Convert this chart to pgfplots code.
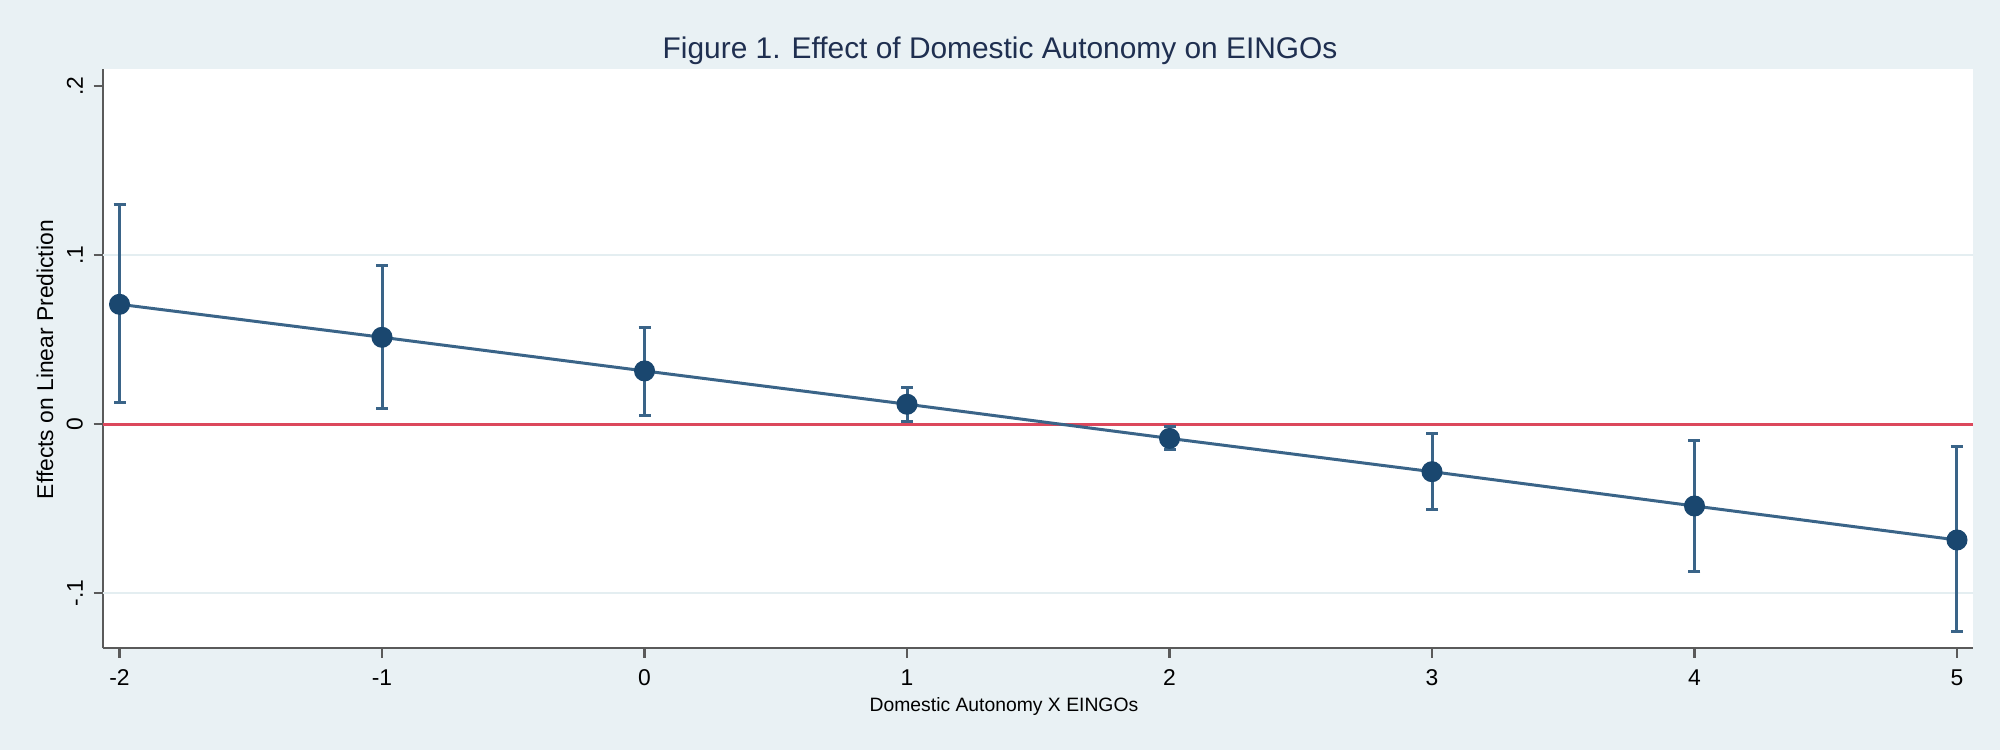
\documentclass[border=0pt]{standalone}
\usepackage{pgfplots}
\pgfplotsset{compat=1.18}
\usepackage{pgfplotstable}
\usepackage{fontspec}
\setmainfont{Liberation Sans}

\definecolor{bgblue}{HTML}{E9F1F4}
\definecolor{gridblue}{HTML}{E4EEF1}
\definecolor{stnavy}{HTML}{1A476F}
\definecolor{stline}{HTML}{3A6488}
\definecolor{stred}{HTML}{DC485C}
\definecolor{axgray}{HTML}{5A5A5A}
\definecolor{titlecol}{HTML}{1F2F50}

% margins: estimate and 95% CI
\pgfplotstableread{
x  est      lo       hi
-2  0.0708   0.0128   0.1296
-1  0.0513   0.0089   0.0935
0   0.0314   0.0053   0.0572
1   0.0117   0.0012   0.0215
2  -0.0085  -0.0150  -0.0016
3  -0.0282  -0.0505  -0.0059
4  -0.0485  -0.0870  -0.0095
5  -0.0686  -0.1229  -0.0134
}\margins

\begin{document}
\begin{tikzpicture}
\fill[bgblue] (-10.3mm,-10.2mm) rectangle (189.7mm,64.8mm);
\begin{axis}[
  at={(0,0)}, anchor=south west,
  scale only axis,
  width=187mm, height=57.9mm,
  xmin=-2.063, xmax=5.061,
  ymin=-0.1325, ymax=0.210,
  axis background/.style={fill=white},
  axis x line*=bottom, axis y line*=left,
  axis line style={axgray, line width=0.25mm},
  tick align=outside,
  major tick length=0.95mm,
  tick style={axgray, line width=0.25mm},
  xtick={-2,-1,0,1,2,3,4,5},
  xticklabels={-2,-1,0,1,2,3,4,5},
  ytick={-0.1,0,0.1,0.2},
  yticklabels={-.1,0,.1,.2},
  extra y ticks={-0.1,0.1},
  extra y tick labels={},
  extra y tick style={grid=major, major tick length=0pt},
  major grid style={gridblue, line width=0.2mm},
  tick label style={font=\fontsize{6.5}{7}\selectfont, black},
  xticklabel style={inner sep=0pt, inner ysep=1.15mm},
  yticklabel style={rotate=90, anchor=south, inner xsep=0pt, inner ysep=1mm},
  title={Figure 1. Effect of Domestic Autonomy on EINGOs},
  title style={at={(0.4797,0.981)}, anchor=base, inner sep=0pt,
    font=\fontsize{8.5}{10}\selectfont, titlecol},
  xlabel={Domestic Autonomy X EINGOs},
  xlabel style={at={(axis description cs:0.4818,-0.1105)}, anchor=base,
    inner sep=0pt, font=\fontsize{5.5}{6.5}\selectfont},
  ylabel={Effects on Linear Prediction},
  ylabel style={at={(axis description cs:-0.031,0.498)}, anchor=center,
    inner sep=0pt, font=\fontsize{6.5}{7}\selectfont},
]
% reference line at zero
\addplot[stred, line width=0.3mm, forget plot] coordinates {(-2.063,0) (5.061,0)};
% confidence intervals
\addplot[only marks, mark=none, forget plot,
  error bars/.cd, y dir=both, y explicit,
  error bar style={stline, line width=0.3mm},
  error mark options={rotate=90, stline, line width=0.3mm, mark size=0.6mm}]
  table[x=x, y=est,
    y error plus expr={\thisrow{hi}-\thisrow{est}},
    y error minus expr={\thisrow{est}-\thisrow{lo}}] {\margins};
% point estimates
\addplot[stline, line width=0.3mm, mark=*, mark size=0.9mm,
  mark options={fill=stnavy, draw=stnavy}]
  table[x=x, y=est] {\margins};
\end{axis}
\pgfresetboundingbox
\useasboundingbox (-10.3mm,-10.2mm) rectangle (189.7mm,64.8mm);
\end{tikzpicture}
\end{document}
